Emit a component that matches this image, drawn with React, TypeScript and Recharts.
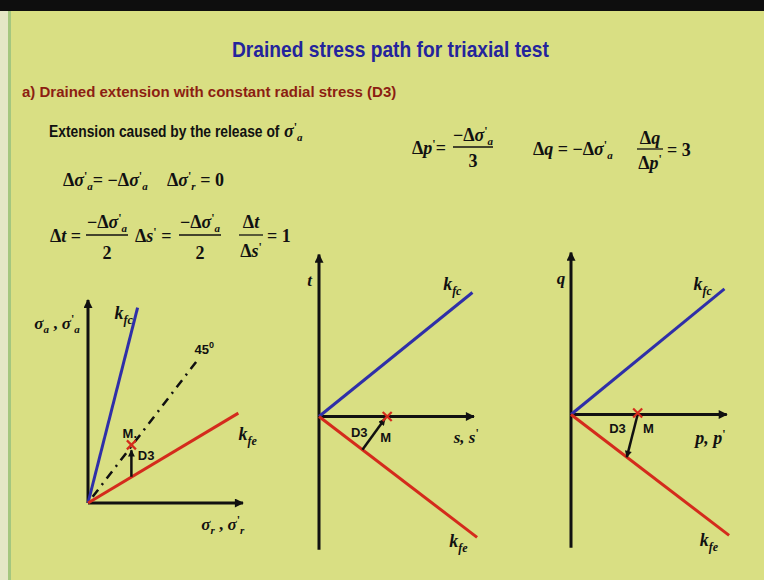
import React from 'react';
import { ComposedChart, Line, Scatter, XAxis, YAxis } from 'recharts';

const PX = 15.5; // pixels per stress unit, same in x and y so angles stay true

const SANS = '"Liberation Sans", Arial, sans-serif';
const SERIF = '"Liberation Serif", "Times New Roman", serif';

const BG = '#d9df83';
const INK = '#111111';
const BLUE = '#2f2fa8';
const RED = '#d42b1c';

type Pt = { x: number; y: number };
type Tag = Pt & { label: string };

// σa – σr plane
const sigRadialAxis: Pt[] = [{ x: 0, y: 0 }, { x: 10, y: 0 }];
const sigAxialAxis: Pt[] = [{ x: 0, y: 0 }, { x: 0, y: 13.1 }];
const sigKfc: Pt[] = [{ x: 0, y: 0 }, { x: 3.2, y: 12.6 }];
const sigKfe: Pt[] = [{ x: 0, y: 0 }, { x: 9.7, y: 5.8 }];
const sigIsotropic: Pt[] = [{ x: 0.3, y: 0.4 }, { x: 7.2, y: 9.4 }];
const sigPathD3: Pt[] = [{ x: 2.8, y: 1.7 }, { x: 2.8, y: 3.4 }];
const sigPointM: Pt[] = [{ x: 2.8, y: 3.75 }];
const sigTags: Tag[] = [
  { x: -2.0, y: 11.6, label: 'sigA' },
  { x: 2.3, y: 12.3, label: 'kfc' },
  { x: 7.5, y: 9.9, label: 'deg45' },
  { x: 10.3, y: 4.5, label: 'kfe' },
  { x: 8.7, y: -1.35, label: 'sigR' },
  { x: 2.7, y: 4.5, label: 'Mdot' },
  { x: 3.75, y: 3.1, label: 'D3' },
];

// t – s' plane
const tsHorizAxis: Pt[] = [{ x: 0, y: 0 }, { x: 10, y: 0 }];
const tsVertAxis: Pt[] = [{ x: 0, y: -8.6 }, { x: 0, y: 10.45 }];
const tsKfc: Pt[] = [{ x: 0, y: 0 }, { x: 9.9, y: 8.0 }];
const tsKfe: Pt[] = [{ x: 0, y: 0 }, { x: 10.2, y: -7.8 }];
const tsPathD3: Pt[] = [{ x: 2.8, y: -2.14 }, { x: 4.25, y: -0.15 }];
const tsPointM: Pt[] = [{ x: 4.4, y: 0 }];
const tsTags: Tag[] = [
  { x: -0.6, y: 8.8, label: 't' },
  { x: 8.6, y: 8.6, label: 'kfc' },
  { x: 9.0, y: -8.0, label: 'kfe' },
  { x: 9.5, y: -1.3, label: 'ss' },
  { x: 2.6, y: -1.05, label: 'D3' },
  { x: 4.3, y: -1.35, label: 'M' },
];

// q – p' plane
const qpHorizAxis: Pt[] = [{ x: 0, y: 0 }, { x: 10.05, y: 0 }];
const qpVertAxis: Pt[] = [{ x: 0, y: -8.6 }, { x: 0, y: 10.45 }];
const qpKfc: Pt[] = [{ x: 0, y: 0 }, { x: 9.9, y: 8.1 }];
const qpKfe: Pt[] = [{ x: 0, y: 0 }, { x: 10.2, y: -7.8 }];
const qpPathD3: Pt[] = [{ x: 4.3, y: 0 }, { x: 3.6, y: -2.75 }];
const qpPointM: Pt[] = [{ x: 4.3, y: 0.1 }];
const qpTags: Tag[] = [
  { x: -0.65, y: 8.8, label: 'q' },
  { x: 8.5, y: 8.45, label: 'kfc' },
  { x: 8.9, y: -8.1, label: 'kfe' },
  { x: 9.0, y: -1.5, label: 'pp' },
  { x: 3.0, y: -0.9, label: 'D3' },
  { x: 5.0, y: -0.9, label: 'M' },
];

type Seg = { t: string; dy?: number; dx?: number; size?: number; italic?: boolean; sans?: boolean };

const PRIME = "'";

const sig = (sub: string, prime = true): Seg[] => [
  { t: 'σ', italic: true },
  ...(prime ? [{ t: PRIME, dy: -6, size: 12 }] : []),
  { t: sub, dy: 4, size: 11, italic: true },
];

// baseline shifts are absolute; each tspan only moves by the difference
const MathText = ({ x, y, segs, size = 18, anchor = 'start', fill = INK }: {
  x: number; y: number; segs: Seg[]; size?: number; anchor?: 'start' | 'middle' | 'end'; fill?: string;
}) => {
  let shift = 0;
  return (
    <text x={x} y={y} textAnchor={anchor} fill={fill} fontSize={size} fontFamily={SERIF} fontWeight="bold">
      {segs.map((s, i) => {
        const target = s.dy ?? 0;
        const d = target - shift;
        shift = target;
        return (
          <tspan
            key={i}
            dy={d || undefined}
            dx={s.dx || undefined}
            fontSize={s.size ?? size}
            fontStyle={s.italic ? 'italic' : 'normal'}
            fontFamily={s.sans ? SANS : SERIF}
          >
            {s.t}
          </tspan>
        );
      })}
    </text>
  );
};

// bold sans heading squeezed horizontally, like a narrow face
const Condensed = ({ x, y, size, sx, fill, children }: {
  x: number; y: number; size: number; sx: number; fill: string; children: string;
}) => (
  <text transform={`translate(${x} ${y}) scale(${sx} 1)`} fill={fill} fontFamily={SANS} fontWeight="bold" fontSize={size}>
    {children}
  </text>
);

const Frac = ({ cx, y, w, num, den, numGap = 7, denGap = 21 }: {
  cx: number; y: number; w: number; num: Seg[]; den: Seg[]; numGap?: number; denGap?: number;
}) => (
  <g>
    <MathText x={cx} y={y - numGap} segs={num} anchor="middle" />
    <line x1={cx - w / 2} x2={cx + w / 2} y1={y} y2={y} stroke={INK} strokeWidth={1.3} />
    <MathText x={cx} y={y + denGap} segs={den} anchor="middle" />
  </g>
);

const kSub = (sub: string): Seg[] => [
  { t: 'k', italic: true },
  { t: sub, dy: 5, size: 12, italic: true },
];

const primed = (letter: string): Seg[] => [{ t: letter, italic: true }, { t: PRIME, dy: -6, size: 12 }];

const TAG_SEGS: Record<string, { segs: Seg[]; size: number }> = {
  kfc: { segs: kSub('fc'), size: 18 },
  kfe: { segs: kSub('fe'), size: 18 },
  sigA: { segs: [...sig('a', false), { t: ' , ' }, ...sig('a')], size: 17 },
  sigR: { segs: [...sig('r', false), { t: ' , ' }, ...sig('r')], size: 17 },
  deg45: { segs: [{ t: '45', sans: true }, { t: '0', dy: -6, size: 9, sans: true }], size: 13 },
  t: { segs: [{ t: 't', italic: true }], size: 17 },
  q: { segs: [{ t: 'q', italic: true }], size: 17 },
  ss: { segs: [{ t: 's, ', italic: true }, ...primed('s')], size: 17 },
  pp: { segs: [{ t: 'p, ', italic: true }, ...primed('p')], size: 18 },
  D3: { segs: [{ t: 'D3', sans: true }], size: 13 },
  M: { segs: [{ t: 'M', sans: true }], size: 13 },
  Mdot: { segs: [{ t: 'M.', sans: true }], size: 13 },
};

const TagShape = (props: any) => {
  const { cx, cy, payload } = props;
  const spec = TAG_SEGS[payload.label];
  if (!spec) return null;
  return <MathText x={cx} y={cy + spec.size * 0.35} segs={spec.segs} size={spec.size} anchor="middle" />;
};

const CrossShape = (props: any) => {
  const { cx, cy } = props;
  const r = 4.5;
  return (
    <g stroke={RED} strokeWidth={2.2}>
      <line x1={cx - r} y1={cy - r} x2={cx + r} y2={cy + r} />
      <line x1={cx - r} y1={cy + r} x2={cx + r} y2={cy - r} />
    </g>
  );
};

const seg = (key: string, data: Pt[], stroke: string, width: number, extra: Record<string, any> = {}) => (
  <Line
    key={key}
    data={data}
    dataKey="y"
    stroke={stroke}
    strokeWidth={width}
    dot={false}
    activeDot={false}
    isAnimationActive={false}
    legendType="none"
    {...extra}
  />
);

const Diagram = ({ ox, oy, xDomain, yDomain, children }: {
  ox: number; oy: number; xDomain: [number, number]; yDomain: [number, number]; children: React.ReactNode;
}) => {
  const width = (xDomain[1] - xDomain[0]) * PX;
  const height = (yDomain[1] - yDomain[0]) * PX;
  return (
    <div style={{ position: 'absolute', left: ox + xDomain[0] * PX, top: oy - yDomain[1] * PX }}>
      <ComposedChart width={width} height={height} margin={{ top: 0, right: 0, bottom: 0, left: 0 }}>
        <XAxis type="number" dataKey="x" domain={xDomain} hide allowDataOverflow />
        <YAxis type="number" dataKey="y" domain={yDomain} hide allowDataOverflow />
        {children}
      </ComposedChart>
    </div>
  );
};

const axisHead = { markerEnd: 'url(#axisHead)' };
const pathHead = { markerEnd: 'url(#pathHead)' };

export default function App() {
  return (
    <div style={{ position: 'relative', width: 764, height: 580, background: BG, overflow: 'hidden' }}>
      <style>{'body{margin:0}'}</style>
      <svg width={0} height={0} style={{ position: 'absolute' }}>
        <defs>
          <marker id="axisHead" viewBox="0 0 10 10" refX={9} refY={5} markerWidth={11} markerHeight={9}
            markerUnits="userSpaceOnUse" orient="auto">
            <path d="M0,0 L10,5 L0,10 z" fill={INK} />
          </marker>
          <marker id="pathHead" viewBox="0 0 10 10" refX={9} refY={5} markerWidth={8} markerHeight={7}
            markerUnits="userSpaceOnUse" orient="auto">
            <path d="M0,0 L10,5 L0,10 z" fill={INK} />
          </marker>
        </defs>
      </svg>

      {/* slide frame */}
      <div style={{ position: 'absolute', left: 0, top: 0, width: 764, height: 11, background: '#0e0e0e' }} />
      <div style={{ position: 'absolute', left: 0, top: 11, width: 8, height: 569, background: '#e4e7c6' }} />
      <div style={{ position: 'absolute', left: 8, top: 11, width: 3, height: 569, background: '#a4c77f' }} />

      <svg width={764} height={580} style={{ position: 'absolute', left: 0, top: 0 }}>
        <Condensed x={232} y={57} size={22} sx={0.873} fill="#24249c">
          Drained stress path for triaxial test
        </Condensed>
        <Condensed x={22} y={97} size={15} sx={1} fill="#8c1e12">
          a) Drained extension with constant radial stress (D3)
        </Condensed>
        <Condensed x={49} y={137} size={16} sx={0.865} fill={INK}>
          Extension caused by the release of
        </Condensed>
        <MathText x={284} y={137} segs={sig('a')} size={18} />

        <MathText x={63} y={186} segs={[{ t: 'Δ' }, ...sig('a'), { t: '= −Δ' }, ...sig('a')]} />
        <MathText x={167} y={186} segs={[{ t: 'Δ' }, ...sig('r'), { t: ' = 0' }]} />

        <MathText x={50} y={242} segs={[{ t: 'Δ' }, { t: 't', italic: true }, { t: ' =' }]} />
        <Frac cx={107} y={235} w={42} num={[{ t: '−Δ' }, ...sig('a')]} den={[{ t: '2' }]} denGap={24} />
        <MathText x={135} y={242} segs={[{ t: 'Δ' }, ...primed('s'), { t: ' =' }]} />
        <Frac cx={200} y={235} w={42} num={[{ t: '−Δ' }, ...sig('a')]} den={[{ t: '2' }]} denGap={24} />
        <Frac cx={251} y={235} w={24} num={[{ t: 'Δ' }, { t: 't', italic: true }]}
          den={[{ t: 'Δ' }, ...primed('s')]} denGap={22} />
        <MathText x={267} y={242} segs={[{ t: '= 1' }]} />

        <MathText x={412} y={154} segs={[{ t: 'Δ' }, ...primed('p'), { t: '=' }]} />
        <Frac cx={473} y={147} w={40} num={[{ t: '−Δ' }, ...sig('a')]} den={[{ t: '3' }]} numGap={6} denGap={20} />
        <MathText x={533} y={155} segs={[{ t: 'Δ' }, { t: 'q', italic: true }, { t: ' = −Δ' }, ...sig('a')]} />
        <Frac cx={650} y={149} w={26} num={[{ t: 'Δ' }, { t: 'q', italic: true }]}
          den={[{ t: 'Δ' }, ...primed('p')]} numGap={5} denGap={20} />
        <MathText x={667} y={156} segs={[{ t: '= 3' }]} />
      </svg>

      <Diagram ox={88} oy={503} xDomain={[-4, 12]} yDomain={[-5, 14]}>
        {seg('axR', sigRadialAxis, INK, 3, axisHead)}
        {seg('axA', sigAxialAxis, INK, 3, axisHead)}
        {seg('iso', sigIsotropic, INK, 2.5, { strokeDasharray: '9 6 2 6' })}
        {seg('kfc', sigKfc, BLUE, 3)}
        {seg('kfe', sigKfe, RED, 3)}
        {seg('d3', sigPathD3, INK, 2.5, pathHead)}
        <Scatter data={sigPointM} shape={CrossShape} isAnimationActive={false} legendType="none" />
        <Scatter data={sigTags} shape={TagShape} isAnimationActive={false} legendType="none" />
      </Diagram>

      <Diagram ox={319} oy={416} xDomain={[-2, 11]} yDomain={[-9.5, 11]}>
        {seg('axH', tsHorizAxis, INK, 3, axisHead)}
        {seg('axV', tsVertAxis, INK, 3, axisHead)}
        {seg('kfc', tsKfc, BLUE, 3)}
        {seg('kfe', tsKfe, RED, 3)}
        {seg('d3', tsPathD3, INK, 2.5, pathHead)}
        <Scatter data={tsPointM} shape={CrossShape} isAnimationActive={false} legendType="none" />
        <Scatter data={tsTags} shape={TagShape} isAnimationActive={false} legendType="none" />
      </Diagram>

      <Diagram ox={571} oy={414} xDomain={[-2, 11]} yDomain={[-9.5, 11]}>
        {seg('axH', qpHorizAxis, INK, 3, axisHead)}
        {seg('axV', qpVertAxis, INK, 3, axisHead)}
        {seg('kfc', qpKfc, BLUE, 3)}
        {seg('kfe', qpKfe, RED, 3)}
        {seg('d3', qpPathD3, INK, 2.5, pathHead)}
        <Scatter data={qpPointM} shape={CrossShape} isAnimationActive={false} legendType="none" />
        <Scatter data={qpTags} shape={TagShape} isAnimationActive={false} legendType="none" />
      </Diagram>
    </div>
  );
}
